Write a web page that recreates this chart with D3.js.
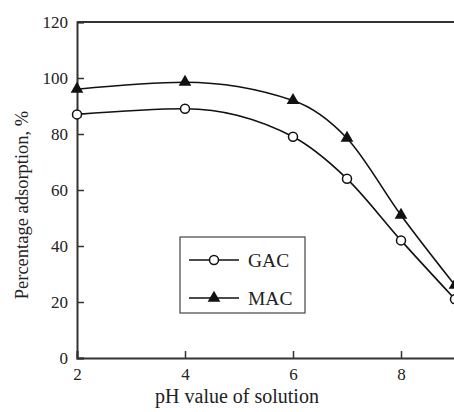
<!DOCTYPE html>
<meta charset="utf-8">
<script src="https://d3js.org/d3.v7.min.js"></script>
<style>
  body { margin: 0; background: #fff; }
  text { font-family: "Liberation Serif", "Times New Roman", serif; fill: #222; }
</style>
<div id="my_dataviz"></div>
<script>

// data
var phValues = [2, 4, 6, 7, 8, 9]
var gacValues = [87, 89, 79, 64, 42, 21]
var macValues = [96, 98.5, 92, 78.5, 51, 26]
var xTicks = [2, 4, 6, 8]
var yTicks = [0, 20, 40, 60, 80, 100, 120]

var width = 454,
    height = 412

// plot runs past the right edge of the picture (cropped like the original)
var margin = {left: 77, top: 22, bottom: 54}
var plotRight = 509

var svg = d3.select("#my_dataviz")
  .append("svg")
    .attr("width", width)
    .attr("height", height)

var x = d3.scaleLinear().domain([2, 10]).range([margin.left, plotRight])
var y = d3.scaleLinear().domain([0, 120]).range([height - margin.bottom, margin.top])

// frame: top border line
svg.append("line")
  .attr("x1", margin.left).attr("x2", plotRight)
  .attr("y1", y(120)).attr("y2", y(120))
  .attr("stroke", "#333").attr("stroke-width", 2)

// y axis with inward ticks
var yAxis = svg.append("g")
  .attr("transform", "translate(" + margin.left + ",0)")
  .call(d3.axisRight(y).tickValues(yTicks).tickSize(7).tickFormat(d3.format("d")))
yAxis.select(".domain").attr("stroke", "#333").attr("stroke-width", 2)
yAxis.selectAll(".tick line").attr("stroke", "#333").attr("stroke-width", 1.5)
yAxis.selectAll(".tick text")
  .attr("x", -9).attr("text-anchor", "end").attr("dy", "0.34em")
  .style("font-size", "17px")

// x axis with inward ticks
var xAxis = svg.append("g")
  .attr("transform", "translate(0," + y(0) + ")")
  .call(d3.axisTop(x).tickValues(xTicks).tickSize(7).tickFormat(d3.format("d")))
xAxis.select(".domain").attr("stroke", "#333").attr("stroke-width", 2)
xAxis.selectAll(".tick line").attr("stroke", "#333").attr("stroke-width", 1.5)
xAxis.selectAll(".tick text")
  .attr("y", 16).attr("dy", "0.34em")
  .style("font-size", "17px")

// axis titles
svg.append("text")
  .attr("transform", "translate(28," + 205 + ") rotate(-90)")
  .attr("text-anchor", "middle")
  .style("font-size", "18.5px")
  .text("Percentage adsorption, %")

svg.append("text")
  .attr("x", 237).attr("y", 403)
  .attr("text-anchor", "middle")
  .style("font-size", "20px")
  .text("pH value of solution")

// lines
var line = d3.line()
  .x(function(d) { return x(d[0]) })
  .y(function(d) { return y(d[1]) })
  .curve(d3.curveMonotoneX)

var gac = phValues.map(function(p, i) { return [p, gacValues[i]] })
var mac = phValues.map(function(p, i) { return [p, macValues[i]] })

svg.append("path").datum(gac)
  .attr("d", line).attr("fill", "none").attr("stroke", "#111").attr("stroke-width", 1.6)
svg.append("path").datum(mac)
  .attr("d", line).attr("fill", "none").attr("stroke", "#111").attr("stroke-width", 1.6)

var tri = d3.symbol().type(d3.symbolTriangle).size(70)

svg.selectAll(".gac")
  .data(gac)
  .enter()
  .append("circle")
    .attr("cx", function(d) { return x(d[0]) })
    .attr("cy", function(d) { return y(d[1]) })
    .attr("r", 4.5)
    .attr("fill", "white").attr("stroke", "#111").attr("stroke-width", 1.5)

svg.selectAll(".mac")
  .data(mac)
  .enter()
  .append("path")
    .attr("d", tri)
    .attr("transform", function(d) { return "translate(" + x(d[0]) + "," + y(d[1]) + ")" })
    .attr("fill", "#111")

// legend
var lg = svg.append("g")
lg.append("rect")
  .attr("x", 180).attr("y", 237).attr("width", 125).attr("height", 76)
  .attr("fill", "white").attr("stroke", "#444").attr("stroke-width", 1.2)

var legendItems = ["GAC", "MAC"]
legendItems.forEach(function(name, i) {
  var ly = 260 + i * 38
  lg.append("line")
    .attr("x1", 189).attr("x2", 239).attr("y1", ly).attr("y2", ly)
    .attr("stroke", "#111").attr("stroke-width", 1.6)
  if (name == "GAC") {
    lg.append("circle").attr("cx", 214).attr("cy", ly).attr("r", 4.5)
      .attr("fill", "white").attr("stroke", "#111").attr("stroke-width", 1.5)
  } else {
    lg.append("path").attr("d", tri).attr("transform", "translate(214," + ly + ")")
      .attr("fill", "#111")
  }
  lg.append("text")
    .attr("x", 248).attr("y", ly).attr("dy", "0.34em")
    .style("font-size", "19.5px")
    .text(name)
})

</script>
